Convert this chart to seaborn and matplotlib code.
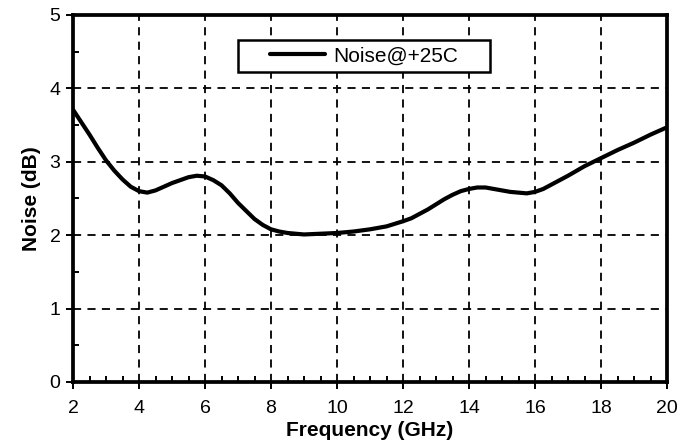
import matplotlib
matplotlib.use("Agg")
import matplotlib.pyplot as plt
from matplotlib.patches import Rectangle
from matplotlib.ticker import MultipleLocator
import seaborn as sns
import pandas as pd

freq_ghz = [2.0, 2.25, 2.5, 2.75, 3.0, 3.25, 3.5, 3.75, 4.0, 4.25, 4.5, 4.75,
            5.0, 5.25, 5.5, 5.75, 6.0, 6.25, 6.5, 6.75, 7.0, 7.25, 7.5, 7.75,
            8.0, 8.25, 8.5, 8.75, 9.0, 9.5, 10.0, 10.5, 11.0, 11.5, 12.0, 12.25,
            12.5, 12.75, 13.0, 13.25, 13.5, 13.75, 14.0, 14.25, 14.5, 14.75, 15.0,
            15.25, 15.5, 15.75, 16.0, 16.25, 16.5, 16.75, 17.0, 17.5, 18.0, 18.5,
            19.0, 19.5, 20.0]
noise_db = [3.71, 3.54, 3.37, 3.19, 3.02, 2.88, 2.76, 2.66, 2.60, 2.58, 2.61, 2.66,
            2.71, 2.75, 2.79, 2.81, 2.80, 2.75, 2.68, 2.57, 2.44, 2.33, 2.22, 2.14,
            2.08, 2.05, 2.03, 2.02, 2.01, 2.02, 2.03, 2.05, 2.08, 2.12, 2.19, 2.23,
            2.29, 2.35, 2.42, 2.49, 2.55, 2.60, 2.63, 2.65, 2.65, 2.63, 2.61,
            2.59, 2.58, 2.57, 2.59, 2.63, 2.69, 2.75, 2.81, 2.94, 3.05, 3.16,
            3.26, 3.37, 3.47]
series_name = "Noise@+25C"
x_ticks = [2, 4, 6, 8, 10, 12, 14, 16, 18, 20]
y_ticks = [0, 1, 2, 3, 4, 5]

df = pd.DataFrame({"Frequency (GHz)": freq_ghz, "Noise (dB)": noise_db,
                   "series": series_name})

sns.set_theme(style="white")
plt.rcParams["font.family"] = ["Liberation Sans", "DejaVu Sans"]
plt.rcParams["text.color"] = "black"
plt.rcParams["axes.labelcolor"] = "black"
plt.rcParams["xtick.color"] = "black"
plt.rcParams["ytick.color"] = "black"

fig = plt.figure(figsize=(6.92, 4.45), dpi=100)
ax = fig.add_axes([0.1055, 0.1416, 0.8584, 0.8247])

sns.lineplot(data=df, x="Frequency (GHz)", y="Noise (dB)", hue="series",
             palette=["black"], linewidth=3.0, ax=ax, zorder=5, legend=True)
for ln in ax.get_lines():
    ln.set_solid_joinstyle("round")

ax.set_xlim(2, 20)
ax.set_ylim(0, 5)
ax.set_xticks(x_ticks)
ax.set_yticks(y_ticks)
ax.xaxis.set_minor_locator(MultipleLocator(0.5))
ax.yaxis.set_minor_locator(MultipleLocator(0.5))

ax.grid(True, which="major", color="black", linestyle=(0, (4.5, 3.5)), linewidth=1.3)
ax.set_axisbelow(True)

for s in ax.spines.values():
    s.set_visible(True)
    s.set_color("black")
    s.set_linewidth(2.7)
    s.set_zorder(6)

ax.tick_params(axis="both", which="major", direction="out", length=5, width=1.4,
               colors="black", labelsize=14, bottom=True, left=True,
               top=False, right=False)
ax.tick_params(axis="x", which="major", pad=8)
ax.tick_params(axis="y", which="major", pad=4)
ax.tick_params(axis="both", which="minor", direction="in", length=4, width=1.4,
               colors="black", bottom=True, left=True, top=False, right=False)

ax.set_xlabel("Frequency (GHz)", fontsize=15, fontweight="bold", labelpad=3)
ax.set_ylabel("Noise (dB)", fontsize=15, fontweight="bold", labelpad=6)

# legend box
ax.add_patch(Rectangle((0.278, 0.845), 0.424, 0.087, transform=ax.transAxes,
                       facecolor="white", edgecolor="black", linewidth=1.8, zorder=7))
leg = ax.legend(loc="center", bbox_to_anchor=(0.49, 0.8885), frameon=False,
                fontsize=15, handlelength=2.6, handletextpad=0.4)
leg.set_zorder(8)
for line in leg.get_lines():
    line.set_linewidth(3.0)

fig.savefig("out.png", dpi=100)
